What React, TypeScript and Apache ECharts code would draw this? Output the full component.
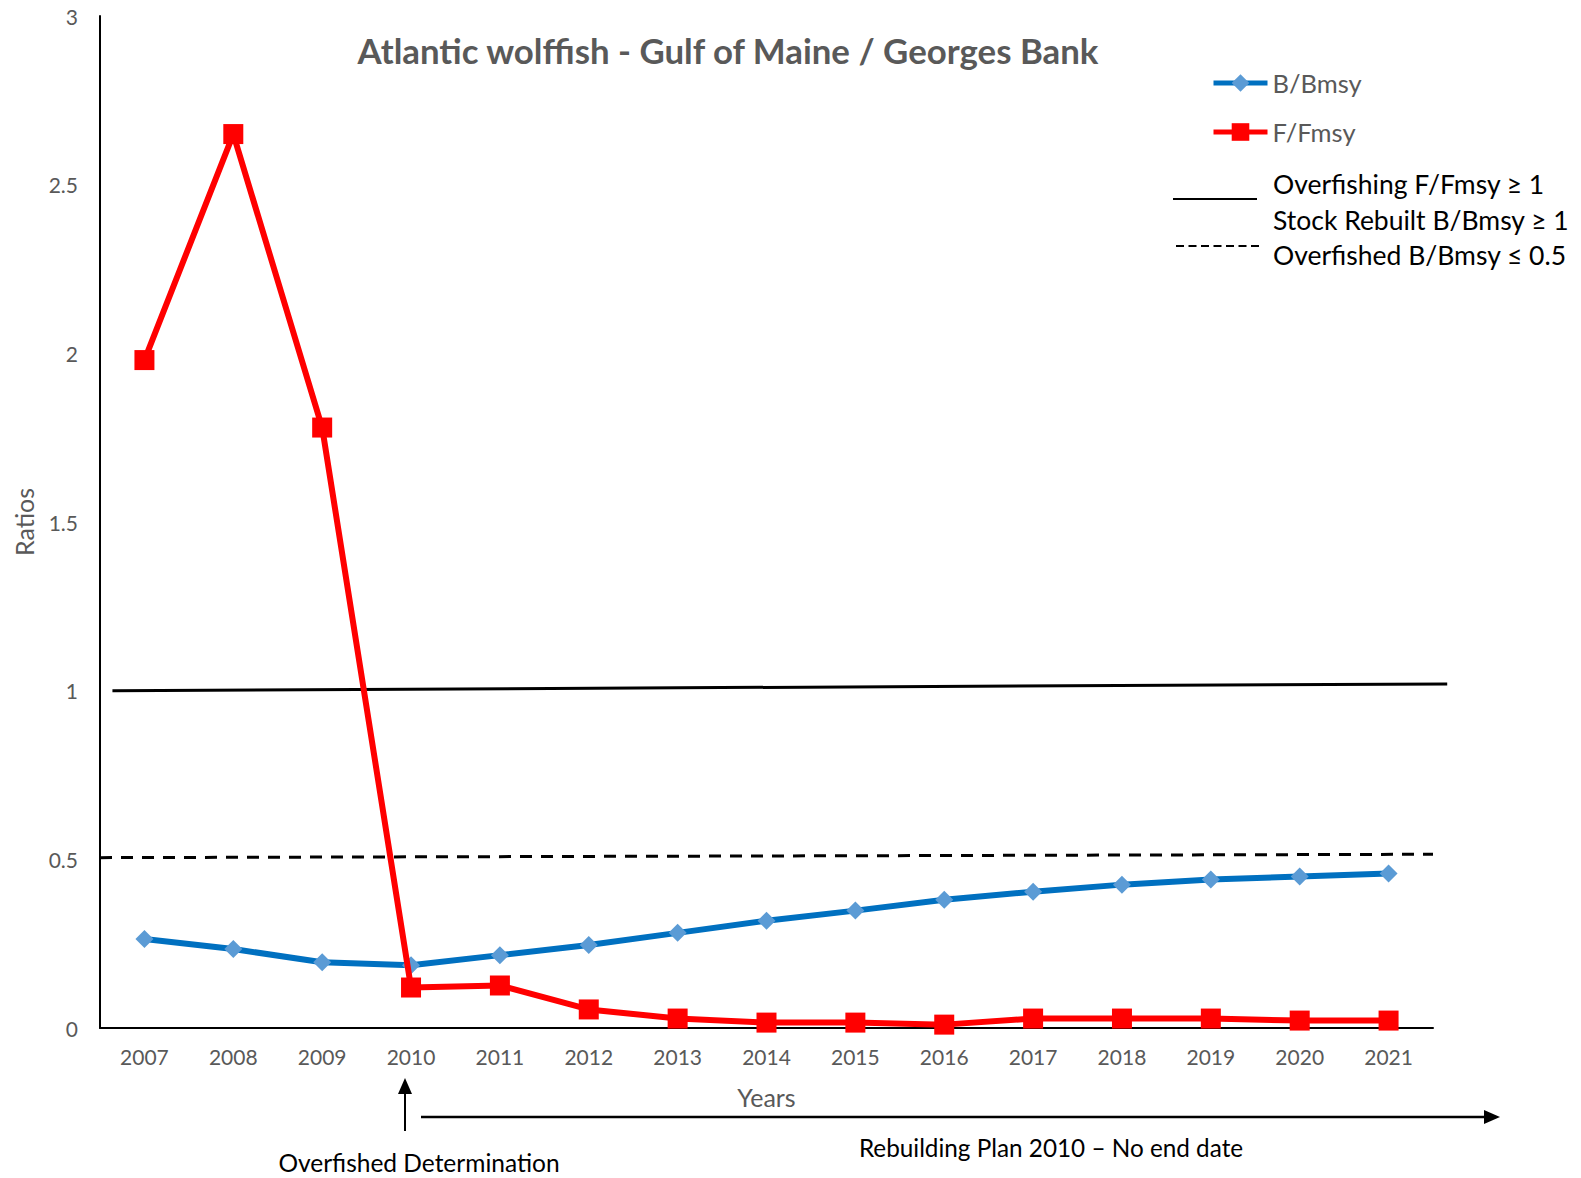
import React, { useEffect, useRef } from "react";
import * as echarts from "echarts";

const years = ["2007", "2008", "2009", "2010", "2011", "2012", "2013", "2014", "2015", "2016", "2017", "2018", "2019", "2020", "2021"];
const bBmsy = [0.264, 0.234, 0.195, 0.186, 0.216, 0.246, 0.282, 0.318, 0.348, 0.38, 0.404, 0.425, 0.44, 0.449, 0.458];
const fFmsy = [1.98, 2.65, 1.78, 0.12, 0.126, 0.055, 0.028, 0.016, 0.016, 0.01, 0.028, 0.028, 0.028, 0.022, 0.022];
// reference lines as drawn: [x position in category-index units, value]
const overfishingLine = [[-0.36, 1.0], [14.66, 1.02]];
const overfishedLine = [[-0.5, 0.505], [14.5, 0.515]];
const yMin = 0;
const yMax = 3;
const yInterval = 0.5;

const FONT = "Lato, 'Open Sans', sans-serif";
const GREY = "#595959";

// layout
const W = 1581;
const GRID_LEFT = 100;
const GRID_RIGHT = 148;
const N = years.length;
const STEP = (W - GRID_LEFT - GRID_RIGHT) / N;
const REF_MAX = 14.8;
const REF_RIGHT = W - GRID_LEFT - (REF_MAX + 0.5) * STEP;

export default function App() {
  const ref = useRef<HTMLDivElement>(null);
  useEffect(() => {
    document.body.style.margin = "0";
    const chart = echarts.init(ref.current!, null, { renderer: "svg" });
    chart.setOption({
      animation: false,
      backgroundColor: "#ffffff",
      title: {
        text: "Atlantic wolffish - Gulf of Maine / Georges Bank",
        left: 723,
        top: 28,
        textAlign: "center",
        textStyle: { fontFamily: FONT, fontSize: 34.8, fontWeight: "bold", color: GREY },
      },
      legend: {
        orient: "vertical",
        left: 1206,
        top: 65,
        itemWidth: 54,
        itemHeight: 22,
        itemGap: 23,
        data: ["B/Bmsy", "F/Fmsy"],
        lineStyle: { width: 5 },
        textStyle: { fontFamily: FONT, fontSize: 25.5, color: GREY },
      },
      grid: [
        { left: GRID_LEFT, right: GRID_RIGHT, top: 16, bottom: 150 },
        { left: GRID_LEFT, right: REF_RIGHT, top: 16, bottom: 150 },
      ],
      xAxis: [
        {
          type: "category",
          gridIndex: 0,
          data: years,
          boundaryGap: true,
          name: "Years",
          nameLocation: "middle",
          nameGap: 56,
          nameTextStyle: { fontFamily: FONT, fontSize: 25, color: GREY },
          axisLine: { lineStyle: { color: "#000", width: 2 } },
          axisTick: { show: false },
          axisLabel: { fontFamily: FONT, fontSize: 21, color: GREY, margin: 18 },
        },
        { type: "value", gridIndex: 1, min: -0.5, max: REF_MAX, show: false },
      ],
      yAxis: [
        {
          type: "value",
          gridIndex: 0,
          min: yMin,
          max: yMax,
          interval: yInterval,
          name: "Ratios",
          nameLocation: "middle",
          nameGap: 64,
          nameRotate: 90,
          nameTextStyle: { fontFamily: FONT, fontSize: 25, color: GREY },
          axisLine: { show: true, onZero: false, lineStyle: { color: "#000", width: 2 } },
          axisTick: { show: false },
          splitLine: { show: false },
          axisLabel: { fontFamily: FONT, fontSize: 21, color: GREY, margin: 22 },
        },
        { type: "value", gridIndex: 1, min: yMin, max: yMax, show: false },
      ],
      series: [
        {
          name: "Overfishing",
          type: "line",
          xAxisIndex: 1,
          yAxisIndex: 1,
          data: overfishingLine,
          symbol: "none",
          lineStyle: { color: "#000", width: 3 },
          z: 1,
        },
        {
          name: "Overfished",
          type: "line",
          xAxisIndex: 1,
          yAxisIndex: 1,
          data: overfishedLine,
          symbol: "none",
          lineStyle: { color: "#000", width: 3, type: [12, 9] },
          z: 1,
        },
        {
          name: "B/Bmsy",
          type: "line",
          data: bBmsy,
          symbol: "diamond",
          symbolSize: 18,
          lineStyle: { color: "#0070C0", width: 6 },
          itemStyle: { color: "#5B9BD5" },
          z: 3,
        },
        {
          name: "F/Fmsy",
          type: "line",
          data: fFmsy,
          symbol: "rect",
          symbolSize: 20,
          lineStyle: { color: "#FF0000", width: 6 },
          itemStyle: { color: "#FF0000" },
          z: 4,
        },
      ],
      graphic: [
        { type: "line", shape: { x1: 1173, y1: 199, x2: 1257, y2: 199 }, style: { stroke: "#000", lineWidth: 2 } },
        { type: "line", shape: { x1: 1176, y1: 246, x2: 1260, y2: 246 }, style: { stroke: "#000", lineWidth: 2, lineDash: [8, 4.5] } },
        { type: "text", x: 1273, y: 184, style: { text: "Overfishing F/Fmsy ≥ 1", font: `26.5px ${FONT}`, fill: "#000", verticalAlign: "middle" } },
        { type: "text", x: 1273, y: 220, style: { text: "Stock Rebuilt B/Bmsy ≥ 1", font: `26.5px ${FONT}`, fill: "#000", verticalAlign: "middle" } },
        { type: "text", x: 1273, y: 255, style: { text: "Overfished B/Bmsy ≤ 0.5", font: `26.5px ${FONT}`, fill: "#000", verticalAlign: "middle" } },
        // Overfished determination arrow
        { type: "line", shape: { x1: 405, y1: 1131, x2: 405, y2: 1090 }, style: { stroke: "#000", lineWidth: 2 } },
        { type: "polygon", shape: { points: [[405, 1078], [398, 1094], [412, 1094]] }, style: { fill: "#000" } },
        { type: "text", x: 419, y: 1162, style: { text: "Overfished Determination", font: `24.5px ${FONT}`, fill: "#000", align: "center", verticalAlign: "middle" } },
        // Rebuilding plan arrow
        { type: "line", shape: { x1: 421, y1: 1117, x2: 1488, y2: 1117 }, style: { stroke: "#000", lineWidth: 2.5 } },
        { type: "polygon", shape: { points: [[1500, 1117], [1484, 1110], [1484, 1124]] }, style: { fill: "#000" } },
        { type: "text", x: 1051, y: 1147, style: { text: "Rebuilding Plan 2010 – No end date", font: `24.3px ${FONT}`, fill: "#000", align: "center", verticalAlign: "middle" } },
      ],
    });
    return () => chart.dispose();
  }, []);
  return <div ref={ref} style={{ width: 1581, height: 1178 }} />;
}
